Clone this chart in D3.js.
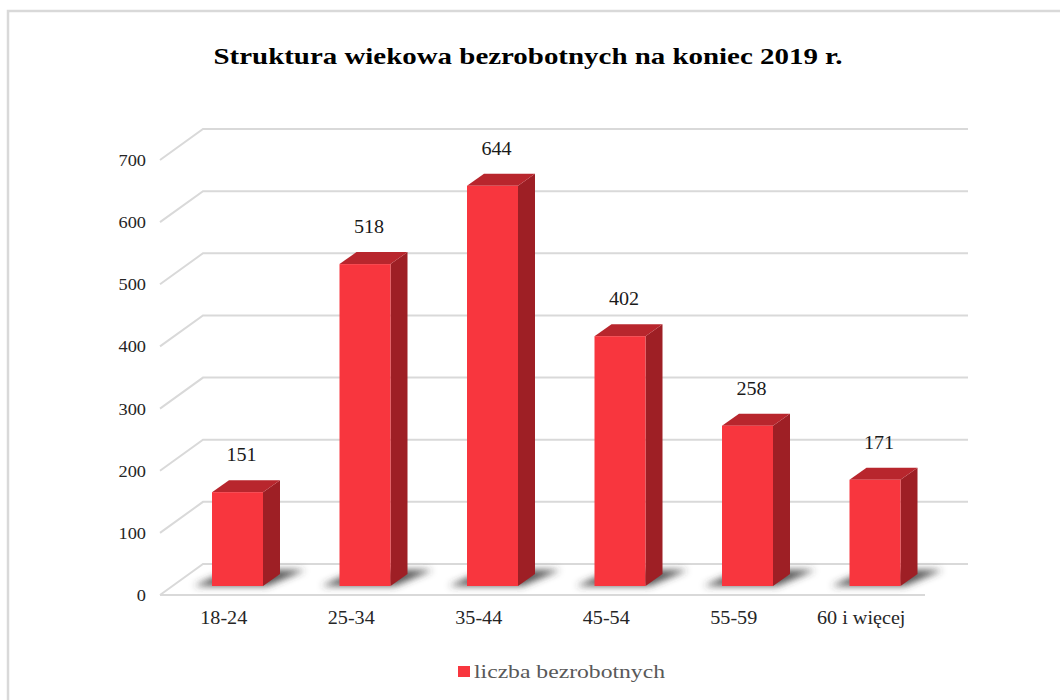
<!DOCTYPE html>
<html><head><meta charset="utf-8">
<script src="https://cdn.jsdelivr.net/npm/d3@7/dist/d3.min.js"></script>
<style>body{margin:0;background:#fff}svg{display:block}</style>
</head><body>
<svg id="c" width="1060" height="700"></svg>
<script>
const categories = ["18-24","25-34","35-44","45-54","55-59","60 i więcej"];
const values = [151,518,644,402,258,171];
const yTicks = [0,100,200,300,400,500,600,700];
const title = "Struktura wiekowa bezrobotnych na koniec 2019 r.";
const seriesName = "liczba bezrobotnych";

(function(){
const svg = d3.select("#c");
const serif = "'Liberation Serif','Times New Roman',serif";
const DX = 43, DY = -31;           // full floor depth
const BDX = 17, BDY = -12;          // bar depth
const FX = 12, FY = -9;             // bar front face offset from front plane
const BW = 51;

const y = d3.scaleLinear().domain([0,700]).range([595,160]);
const x = d3.scaleBand().domain(categories).range([160,925]).padding(0);

const defs = svg.append("defs");
defs.append("filter").attr("id","blur").attr("x","-50%").attr("y","-100%").attr("width","200%").attr("height","300%")
  .append("feGaussianBlur").attr("stdDeviation",3.5);

// border
svg.append("path").attr("d","M8,700 L8,11 L1060,11").attr("fill","none").attr("stroke","#d9d9d9").attr("stroke-width",2.5);

// title
svg.append("text").attr("x",528).attr("y",64).attr("text-anchor","middle")
  .attr("font-family",serif).attr("font-weight","bold").attr("font-size",24).attr("fill","#000")
  .attr("textLength",629).attr("lengthAdjust","spacingAndGlyphs").text(title);

const x0 = x.range()[0], x1 = x.range()[1];
const grid = svg.append("g");
yTicks.forEach(t => {
  grid.append("path")
    .attr("d",`M${x0},${y(t)} L${x0+DX},${y(t)+DY} L${x1+DX},${y(t)+DY}`)
    .attr("fill","none").attr("stroke","#d9d9d9").attr("stroke-width",2);
});
svg.append("path").attr("d",`M${x0},${y(0)} L${x1},${y(0)}`)
  .attr("fill","none").attr("stroke","#d9d9d9").attr("stroke-width",2);

svg.append("g").selectAll("text").data(yTicks).join("text")
  .attr("transform",d=>`translate(146,${y(d)}) scale(1.08,1)`).attr("dy","0.35em").attr("text-anchor","end")
  .attr("font-family",serif).attr("font-size",17).attr("fill","#262626").text(d=>d);

svg.append("g").selectAll("text").data(categories).join("text")
  .attr("transform",d=>`translate(${x(d)+x.bandwidth()/2},618) scale(1.12,1)`).attr("dy","0.35em").attr("text-anchor","middle")
  .attr("font-family",serif).attr("font-size",18).attr("fill","#262626").text(d=>d);

const data = categories.map((c,i)=>({c,v:values[i]}));
const bx = d => x(d.c) + 40 + FX;
const base = y(0) + FY;
const ty = d => y(d.v) + FY;

svg.append("g").attr("filter","url(#blur)").selectAll("path").data(data).join("path")
  .attr("d",d=>{const l=bx(d);return `M${l-18},${base} L${l+BW+4},${base} L${l+BW+42},${base-16} L${l+18},${base-16} Z`;})
  .attr("fill","#3a3a3a").attr("opacity",0.85);

const bars = svg.append("g").selectAll("g").data(data).join("g");
bars.append("path").attr("fill","#9e1f25")
  .attr("d",d=>{const l=bx(d)+BW;return `M${l},${base} L${l},${ty(d)} L${l+BDX},${ty(d)+BDY} L${l+BDX},${base+BDY} Z`;});
bars.append("path").attr("fill","#b8262d")
  .attr("d",d=>{const l=bx(d),t=ty(d);return `M${l},${t} L${l+BDX},${t+BDY} L${l+BW+BDX},${t+BDY} L${l+BW},${t} Z`;});
bars.append("rect").attr("fill","#f8363e")
  .attr("x",bx).attr("y",ty).attr("width",BW).attr("height",d=>base-ty(d));

svg.append("g").selectAll("text").data(data).join("text")
  .attr("transform",d=>`translate(${bx(d)+BW/2+4},${ty(d)-31}) scale(1.06,1)`).attr("text-anchor","middle")
  .attr("font-family",serif).attr("font-size",19).attr("fill","#1a1a1a").text(d=>d.v);

svg.append("rect").attr("x",458).attr("y",666).attr("width",12).attr("height",11).attr("fill","#f8363e");
svg.append("text").attr("x",474).attr("y",678).attr("font-family",serif).attr("font-size",19)
  .attr("fill","#595959").attr("textLength",191).attr("lengthAdjust","spacingAndGlyphs").text(seriesName);
})();
</script>
</body></html>
